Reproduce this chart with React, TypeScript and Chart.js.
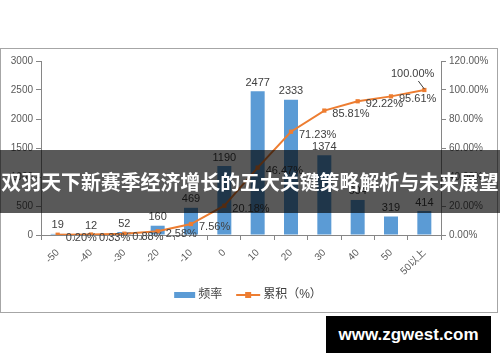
import React, { useEffect, useRef } from "react";
import { Chart, registerables } from "chart.js";

Chart.register(...registerables);

const categories = ["-50", "-40", "-30", "-20", "-10", "0", "10", "20", "30", "40", "50", "50以上"];
const frequency = [19, 12, 52, 160, 469, 1190, 2477, 2333, 1374, 604, 319, 414];
const cumulative = [0.2, 0.33, 0.88, 2.58, 7.56, 20.18, 46.47, 71.23, 85.81, 92.22, 95.61, 100.0];
const barLabel = "频率";
const lineLabel = "累积（%）";
const bannerText = "双羽天下新赛季经济增长的五大关键策略解析与未来展望";
const watermark = "www.zgwest.com";

const FONT = '"Liberation Sans", "Noto Sans CJK SC", sans-serif';
const BLUE = "#5B9BD5";
const ORANGE = "#ED7D31";
const AXIS = "#868686";
const TEXT = "#595959";

const labelsPlugin = {
  id: "customLabels",
  afterDatasetsDraw(chart: any) {
    const ctx = chart.ctx;
    ctx.save();
    ctx.font = `11px ${FONT}`;
    ctx.fillStyle = "#404040";
    const barMeta = chart.getDatasetMeta(0);
    barMeta.data.forEach((el: any, i: number) => {
      ctx.textAlign = "center";
      ctx.textBaseline = "bottom";
      ctx.fillText(String(frequency[i]), el.x, el.y - 3);
    });
    const lineMeta = chart.getDatasetMeta(1);
    const n = lineMeta.data.length;
    lineMeta.data.forEach((el: any, i: number) => {
      const txt = cumulative[i].toFixed(2) + "%";
      if (i === n - 1) {
        ctx.textAlign = "right";
        ctx.textBaseline = "middle";
        ctx.fillText(txt, el.x + 10, el.y - 16);
        ctx.strokeStyle = "#404040";
        ctx.lineWidth = 1;
        ctx.beginPath();
        ctx.moveTo(el.x - 6, el.y - 9);
        ctx.lineTo(el.x, el.y - 1);
        ctx.stroke();
      } else {
        ctx.textAlign = "left";
        ctx.textBaseline = "middle";
        ctx.fillText(txt, el.x + 8, el.y + 3);
      }
    });
    ctx.restore();
  },
  afterDraw(chart: any) {
    const ctx = chart.ctx;
    ctx.save();
    ctx.font = `12px ${FONT}`;
    const w1 = ctx.measureText(barLabel).width;
    const w2 = ctx.measureText(lineLabel).width;
    const total = 21 + 3 + w1 + 14 + 24 + 3 + w2;
    let x = 247 - total / 2;
    const cy = 246;
    ctx.fillStyle = BLUE;
    ctx.fillRect(x, cy - 3, 21, 6);
    x += 24;
    ctx.fillStyle = "#404040";
    ctx.textAlign = "left";
    ctx.textBaseline = "middle";
    ctx.fillText(barLabel, x, cy);
    x += w1 + 14;
    ctx.strokeStyle = ORANGE;
    ctx.lineWidth = 2;
    ctx.beginPath();
    ctx.moveTo(x, cy);
    ctx.lineTo(x + 24, cy);
    ctx.stroke();
    ctx.fillStyle = ORANGE;
    ctx.fillRect(x + 9, cy - 3, 6, 6);
    x += 27;
    ctx.fillStyle = "#404040";
    ctx.fillText(lineLabel, x, cy);
    ctx.restore();
  },
};

export default function App() {
  const ref = useRef<HTMLCanvasElement>(null);
  useEffect(() => {
    if (!ref.current) return;
    const chart = new Chart(ref.current, {
      type: "bar",
      data: {
        labels: categories,
        datasets: [
          {
            type: "bar",
            label: barLabel,
            data: frequency,
            backgroundColor: BLUE,
            barPercentage: 0.42,
            categoryPercentage: 1,
            yAxisID: "y",
            order: 2,
          },
          {
            type: "line",
            label: lineLabel,
            data: cumulative,
            borderColor: ORANGE,
            backgroundColor: ORANGE,
            borderWidth: 2,
            pointStyle: "rect",
            pointRadius: 3,
            pointBorderWidth: 0,
            tension: 0,
            yAxisID: "y1",
            order: 1,
          } as any,
        ],
      },
      options: {
        responsive: false,
        animation: false,
        layout: { padding: { top: 12, bottom: 33, left: 0, right: 0 } },
        plugins: { legend: { display: false }, tooltip: { enabled: false } },
        scales: {
          x: {
            offset: true,
            grid: { display: true, drawOnChartArea: false, drawTicks: true, tickLength: 5, color: AXIS, offset: true },
            border: { color: AXIS },
            ticks: { minRotation: 45, maxRotation: 45, autoSkip: false, color: TEXT, font: { size: 10, family: FONT }, padding: 7 },
            afterFit: (s: any) => { s.height = 44; },
          },
          y: {
            position: "left",
            min: 0,
            max: 3000,
            grid: { drawOnChartArea: false, tickLength: 5, color: AXIS },
            border: { color: AXIS },
            ticks: { stepSize: 500, color: TEXT, font: { size: 10, family: FONT }, padding: 3, callback: (v: any) => String(v) },
            afterFit: (s: any) => { s.width = 40; },
          },
          y1: {
            position: "right",
            min: 0,
            max: 120,
            grid: { drawOnChartArea: false, tickLength: 5, color: AXIS },
            border: { color: AXIS },
            ticks: { stepSize: 20, color: TEXT, font: { size: 10, family: FONT }, padding: 3, callback: (v: any) => Number(v).toFixed(2) + "%" },
            afterFit: (s: any) => { s.width = 56; },
          },
        },
      } as any,
      plugins: [labelsPlugin],
    });
    return () => chart.destroy();
  }, []);

  return (
    <div style={{ position: "fixed", left: 0, top: 0, width: 500, height: 362, background: "#fff", overflow: "hidden" }}>
      <div style={{ position: "absolute", left: 0, top: 48, width: 498, height: 265, border: "1px solid #a6a6a6", boxSizing: "border-box" }} />
      <canvas ref={ref} width={496} height={263} style={{ position: "absolute", left: 1, top: 49, width: 496, height: 263 }} />
      <div
        style={{
          position: "absolute", left: 0, top: 150, width: 500, height: 63,
          background: "rgba(0,0,0,0.65)", color: "#fff", fontWeight: "bold",
          fontFamily: '"Noto Sans CJK SC", sans-serif', fontSize: 19.9, lineHeight: "63px",
          textAlign: "center", whiteSpace: "nowrap", overflow: "hidden",
        }}
      >
        {bannerText}
      </div>
      <div
        style={{
          position: "absolute", left: 326, top: 316, width: 165, height: 37, background: "#000",
          color: "#fff", fontWeight: "bold", fontFamily: '"Liberation Sans", Arial, sans-serif',
          fontSize: 17, lineHeight: "37px", textAlign: "center",
        }}
      >
        {watermark}
      </div>
    </div>
  );
}
